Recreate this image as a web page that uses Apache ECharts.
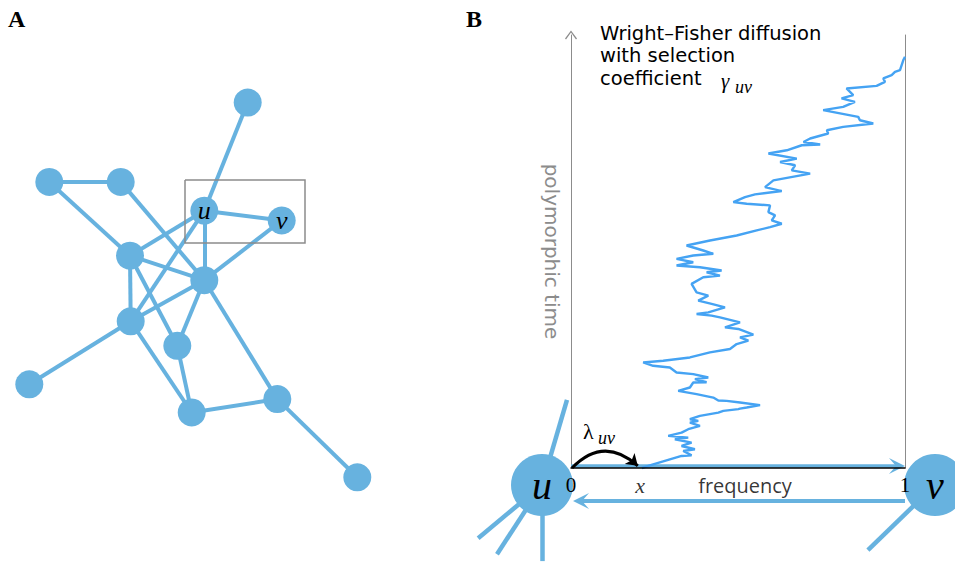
<!DOCTYPE html>
<html><head><meta charset="utf-8">
<script src="https://cdn.jsdelivr.net/npm/echarts@6/dist/echarts.min.js"></script>
<style>html,body{margin:0;padding:0;background:#fff}#c{width:955px;height:562px}</style>
</head><body><div id="c"></div>
<script>
// ---------- Panel A: network ----------
const nodeNames = ['n1','n2','n3','u','v','n6','n7','n8','n9','n10','n11','n12','n13'];
const nodeLabels = ['','','','u','v','','','','','','','',''];
const nodeX = [247.7, 49.3, 120.7, 204.3, 281.7, 130.0, 204.3, 130.7, 177.3, 29.3, 191.7, 277.3, 357.3];
const nodeY = [102.6, 181.9, 181.9, 210.7, 220.5, 255.7, 280.2, 321.3, 345.8, 384.3, 412.5, 399.1, 477.3];
const edgePairs = [[0,3],[1,2],[1,5],[2,6],[3,4],[3,5],[3,6],[3,7],[4,6],[5,6],[5,7],[5,8],[6,7],[6,8],[6,11],[7,9],[7,10],[8,10],[10,11],[11,12]];
const boxCorners = [[185,180],[305,180],[305,243],[185,243],[185,180]];

// ---------- Panel B: Wright–Fisher diffusion path ----------
const freq = [
0.212,0.246,0.296,0.331,0.361,0.336,0.371,0.331,0.361,0.311,
0.351,0.291,0.331,0.351,0.386,0.356,0.381,0.356,0.386,0.441,
0.456,0.501,0.506,0.526,0.566,0.506,0.466,0.441,0.426,0.376,
0.321,0.356,0.366,0.406,0.371,0.411,0.366,0.316,0.296,0.246,
0.216,0.276,0.356,0.416,0.476,0.496,0.531,0.506,0.546,0.501,
0.461,0.506,0.446,0.421,0.376,0.411,0.461,0.421,0.381,0.411,
0.376,0.361,0.396,0.446,0.406,0.451,0.386,0.316,0.366,0.316,
0.366,0.426,0.396,0.346,0.416,0.496,0.556,0.596,0.631,0.601,
0.611,0.591,0.596,0.526,0.486,0.521,0.551,0.631,0.581,0.606,
0.716,0.661,0.671,0.626,0.676,0.591,0.646,0.691,0.746,0.696,
0.716,0.770,0.766,0.815,0.905,0.865,0.860,0.755,0.815,0.850,
0.810,0.845,0.825,0.915,0.940,0.935,0.960,0.970,0.985,0.990,
0.995,1.000];
const time = [
0,0.86,2.01,2.78,2.94,3.94,4.33,5.09,5.86,6.64,
7.01,7.41,8.17,8.96,9.72,10.49,10.88,11.27,12.04,12.80,
13.19,13.59,13.70,13.96,14.51,15.12,15.51,15.60,16.27,17.06,
17.82,18.59,19.75,19.80,20.53,20.90,21.69,22.06,23.22,23.61,
24.38,24.77,25.53,26.69,27.48,28.63,29.40,30.16,30.79,32.11,
32.48,33.63,34.79,35.19,35.58,35.95,37.11,37.89,38.66,39.81,
40.58,42.52,44.05,44.44,45.21,45.60,46.37,46.76,47.52,48.31,
49.07,49.47,50.23,51.39,52.55,53.70,54.86,55.63,56.41,57.18,
58.33,59.10,60.65,61.04,61.41,62.57,63.19,63.96,64.88,66.44,
67.99,68.75,69.91,70.67,71.46,72.62,73.38,74.54,74.70,75.30,
76.09,77.25,78.01,78.77,79.56,80.32,81.09,82.64,83.40,84.56,
85.35,86.11,87.66,88.26,89.19,89.98,90.74,91.50,91.90,93.06,
94.21,94.98];
const xTickLabels = ['0', '1'];
const titleLines = ['Wright\u2013Fisher diffusion', 'with selection', 'coefficient'];
const yAxisName = 'polymorphic time';
const xAxisName = 'frequency';
const startLabel = 'x';
const startFreq = 0.207;

// decorative nodes (u, v) and edge stubs of panel B, in panel B axis units
const bNodeNames = ['u','v','s1','s2','s3','s4','s5'];
const bNodeLabels = ['u','v','','','','',''];
const bNodeX = [-0.0868, 1.0898, -0.278, -0.2216, -0.0868, -0.012, 0.889];
const bNodeY = [-3.94, -3.94, -16.2, -19.9, -21.5, 15.74, -18.98];
const bEdgePairs = [[0,2],[0,3],[0,4],[0,5],[1,6]];
const arrowForward = [[0, 0.46], [0.976, 0.46]];
const arrowBackward = [[1, -7.64], [0.030, -7.64]];
const jumpArrow = [[0.003, 0], [0.2, 0.5]];

// ---------- styles ----------
const NODE = '#67b2df', PATH = '#45a3f3', GRAY = '#8c8c8c';
const serif = "'Liberation Serif','DejaVu Serif',serif";
const sans = "'DejaVu Sans','Open Sans',sans-serif";
const chevronUp = 'path://M6,0 L12,8 L11,9 L6,2 L1,9 L0,8 Z';
const arrowHead = 'path://M8,0 L16,16 L8,9 L0,16 Z';

const chart = echarts.init(document.getElementById('c'), null, {renderer: 'svg'});
const txt = (x, y, text, font) => ({type: 'text', x: x, y: y, z: 20,
  style: {text: text, font: font, fill: '#000', verticalAlign: 'middle', align: 'left'}});
const option = {
  animation: false,
  backgroundColor: '#fff',
  grid: [
    {left: 0, top: 0, width: 480, height: 562},
    {left: 571, top: 35, width: 334, height: 433}
  ],
  xAxis: [
    {gridIndex: 0, type: 'value', min: 0, max: 480, show: false},
    {gridIndex: 1, type: 'value', min: 0, max: 1, interval: 1, z: 8,
     axisLine: {show: true, onZero: false, lineStyle: {color: '#000', width: 1.5}},
     axisTick: {show: false}, splitLine: {show: false},
     axisLabel: {show: true, margin: 6, fontSize: 21, fontFamily: serif, color: '#000',
                 formatter: v => xTickLabels[Math.round(v)]}}
  ],
  yAxis: [
    {gridIndex: 0, type: 'value', min: 0, max: 562, inverse: true, show: false},
    {gridIndex: 1, type: 'value', min: 0, max: 100, position: 'left',
     axisLine: {show: true, onZero: false, symbol: ['none', chevronUp], symbolSize: [13, 9],
                lineStyle: {color: GRAY, width: 1}},
     axisTick: {show: false}, axisLabel: {show: false}, splitLine: {show: false},
     name: yAxisName, nameLocation: 'middle', nameRotate: -90, nameGap: 9,
     nameTextStyle: {color: GRAY, fontSize: 20, fontFamily: sans}},
    {gridIndex: 1, type: 'value', min: 0, max: 100, position: 'right',
     axisLine: {show: true, onZero: false, lineStyle: {color: GRAY, width: 1}},
     axisTick: {show: false}, axisLabel: {show: false}, splitLine: {show: false}}
  ],
  graphic: [
    txt(8, 19, 'A', "bold 24px 'Liberation Serif'"),
    txt(466, 19, 'B', "bold 24px 'Liberation Serif'"),
    txt(600, 33, titleLines[0], "19.5px 'DejaVu Sans'"),
    txt(600, 55.5, titleLines[1], "19.5px 'DejaVu Sans'"),
    txt(600, 78, titleLines[2], "19.5px 'DejaVu Sans'"),
    txt(721, 81, '\u03b3', "italic 21px 'Liberation Serif'"),
    txt(735, 87, 'uv', "italic 18px 'Liberation Serif'"),
    txt(583, 431, '\u03bb', "22px 'Liberation Serif'"),
    txt(598, 438, 'uv', "italic 18px 'Liberation Serif'")
  ],
  series: [
    {
      type: 'graph', coordinateSystem: 'cartesian2d', xAxisIndex: 0, yAxisIndex: 0,
      symbolSize: 28, itemStyle: {color: NODE},
      lineStyle: {color: NODE, width: 4, opacity: 1},
      label: {show: true, position: 'inside', color: '#000', fontSize: 26, fontStyle: 'italic', fontFamily: serif,
              formatter: p => nodeLabels[p.dataIndex]},
      data: nodeNames.map((n, i) => ({name: n, value: [nodeX[i], nodeY[i]]})),
      links: edgePairs.map(([s, t]) => ({source: s, target: t})),
      z: 3
    },
    {
      type: 'lines', coordinateSystem: 'cartesian2d', xAxisIndex: 0, yAxisIndex: 0, polyline: true, clip: false,
      lineStyle: {color: GRAY, width: 1.5, opacity: 1},
      data: [{coords: boxCorners}], z: 4
    },
    {
      type: 'lines', coordinateSystem: 'cartesian2d', xAxisIndex: 1, yAxisIndex: 1, clip: false,
      symbol: ['none', arrowHead], symbolSize: 16,
      lineStyle: {color: NODE, width: 3.5, opacity: 1},
      data: [{coords: arrowForward}, {coords: arrowBackward, lineStyle: {width: 4}}], z: 2
    },
    {
      type: 'graph', coordinateSystem: 'cartesian2d', xAxisIndex: 1, yAxisIndex: 1,
      itemStyle: {color: NODE},
      lineStyle: {color: NODE, width: 4.5, opacity: 1},
      label: {show: true, position: 'inside', color: '#000', fontSize: 40, fontStyle: 'italic', fontFamily: serif,
              formatter: p => bNodeLabels[p.dataIndex]},
      data: bNodeNames.map((n, i) => ({name: n, value: [bNodeX[i], bNodeY[i]], symbolSize: i < 2 ? 62 : 0})),
      links: bEdgePairs.map(([s, t]) => ({source: s, target: t})),
      z: 1
    },
    {
      type: 'line', xAxisIndex: 1, yAxisIndex: 1, showSymbol: false, symbol: 'none',
      lineStyle: {color: PATH, width: 2.4}, clip: false,
      data: freq.map((f, i) => [f, time[i]]), z: 4
    },
    {
      type: 'lines', coordinateSystem: 'cartesian2d', xAxisIndex: 1, yAxisIndex: 1, clip: false,
      symbol: ['none', 'arrow'], symbolSize: 11,
      lineStyle: {color: '#000', width: 3, curveness: 0.48, opacity: 1},
      data: [{coords: jumpArrow}], z: 7
    },
    {
      type: 'scatter', xAxisIndex: 1, yAxisIndex: 1, symbolSize: 0, clip: false,
      data: [
        {value: [startFreq, -3.94], label: {formatter: startLabel, fontStyle: 'italic', fontFamily: serif, fontSize: 22}},
        {value: [0.521, -3.94], label: {formatter: xAxisName, fontFamily: "'Open Sans',sans-serif", fontSize: 20}}
      ],
      label: {show: true, position: 'inside', color: '#000'}, z: 7
    }
  ]
};
chart.setOption(option);
</script></body></html>
